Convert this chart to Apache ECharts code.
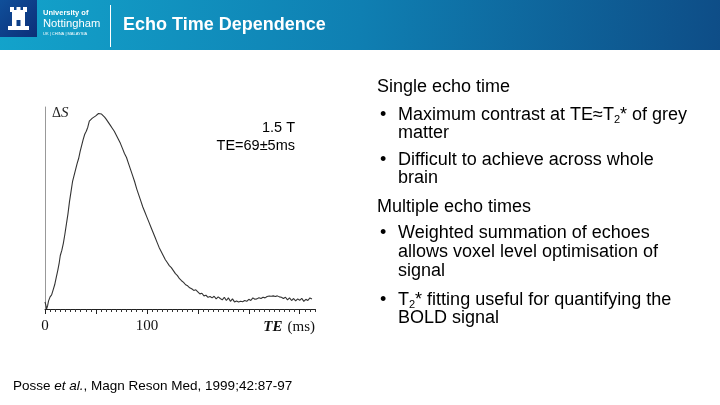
<!DOCTYPE html>
<html><head><meta charset="utf-8">
<script src="https://cdn.jsdelivr.net/npm/echarts@6/dist/echarts.min.js"></script>
<style>html,body{margin:0;padding:0;background:#fff}#c{width:720px;height:405px}</style>
</head><body><div id="c"></div>
<script>
// TE (ms) and signal change ΔS (arbitrary units, 0-100 = axis height)
const teMs = [0,1,1.5,2.5,3.5,5,6.5,8,9.5,11,12.5,14,15,16.5,18,19.5,21,22.5,24,25.5,27,28.5,30,31.5,33,34.5,36,37.5,39,40.5,42,43.5,45,46.5,48,49.5,51,52.5,54,55.5,57,58.5,60,62,64,66,68,70,72,74,76,78,80,82,84,86,88,90,92,94,96,98,100,102,104,106,108,110,112,114,116,118,120,122,124,126,128,130,132,134,136,138,140,142,144,146,148,150,152,154,156,158,160,162,164,166,168,170,172,174,176,178,180,182,184,186,188,190,192,194,196,198,200,202,204,206,208,210,212,214,216,218,220,222,224,226,228,230,232,234,236,238,240,242,244,246,248,250,252,254,256,258,260,262];
const deltaS = [3.5,1.5,0,1.5,4,6,7,9.5,12,15.5,19,23,26.5,29,32.5,37,42,47,53,58,63,66,69,72,74.5,78,81,84,86.5,88,90,93,93.8,94.5,95,95.5,96.2,96.8,96.3,96.5,95.7,95,94,92.5,91,89.5,88,86,84,82,79.5,77,75,72,69,66,63,59.5,56.5,53.5,50.5,48,45.5,43,40.5,38,35.5,33,30.5,28.5,26.5,24.5,23,21.5,20.5,19,17.5,16.5,15,14,13.2,12,11.5,10.5,10,9.2,9.5,8.5,7.5,7.8,6.5,6.8,5.8,6.2,5.5,6.3,5,6,5.2,4.5,5.8,4.2,5.5,3.8,5,3.5,4,3.5,3.8,3.6,4.2,3.8,4.8,4.2,5.5,4.8,5,5.6,5.2,5.8,5.5,6.2,6.4,6.3,6.5,6.2,6.5,6,5.8,5.2,5.8,4.5,5.5,4.2,5.2,4,5,4.3,5.3,3.8,4.8,4.2,5.5,5];
const majorTicks = [0,50,100,150,200,250];
const tickLabels = [0,100];
const xMax = 265;

const chart = echarts.init(document.getElementById('c'), null, {renderer:'canvas'});
const sans = '"Liberation Sans", Arial, sans-serif';
const serif = '"Liberation Serif", "Times New Roman", serif';
const sub = {fontSize: 11, fontFamily: sans, fill:'#000', padding:[10,0,0,0]};
const sup = {fontSize: 18, fontFamily: sans, fill:'#000'};

function txt(x, y, text, opts) {
  return Object.assign({type:'text', x:x, y:y, silent:true,
    style: Object.assign({text:text, fill:'#000', font:'18px ' + sans, verticalAlign:'middle'}, opts||{})});
}

const rightText = [
  txt(377, 87, 'Single echo time'),
  txt(380, 115, '•'), txt(398, 115, '{n|Maximum contrast at TE≈T}{s|2}{n|* of grey}', {rich:{n:sup, s:sub}}),
  txt(398, 133, 'matter'),
  txt(380, 160, '•'), txt(398, 160, 'Difficult to achieve across whole'),
  txt(398, 178, 'brain'),
  txt(377, 207, 'Multiple echo times'),
  txt(380, 233, '•'), txt(398, 233, 'Weighted summation of echoes'),
  txt(398, 252, 'allows voxel level optimisation of'),
  txt(398, 271, 'signal'),
  txt(380, 300, '•'), txt(398, 300, '{n|T}{s|2}{n|* fitting useful for quantifying the}', {rich:{n:sup, s:sub}}),
  txt(398, 318, 'BOLD signal')
];

chart.setOption({
  animation:false,
  grid:{left:45, right:405, top:107, bottom:96, containLabel:false},
  xAxis:[{
    type:'value', min:0, max:xMax, interval:5,
    axisLine:{show:true, lineStyle:{color:'#222', width:1}},
    axisTick:{show:true, length:3, lineStyle:{color:'#333', width:1}},
    axisLabel:{show:false}, splitLine:{show:false}
  },{
    type:'value', min:0, max:xMax, interval:50, position:'bottom',
    axisLine:{show:false},
    axisTick:{show:true, length:5, customValues:majorTicks, lineStyle:{color:'#222', width:1}},
    axisLabel:{show:true, customValues:tickLabels, margin:10, fontFamily:serif, fontSize:15, color:'#111'},
    splitLine:{show:false}
  }],
  yAxis:{type:'value', min:0, max:100, axisLine:{show:true, lineStyle:{color:'#999', width:1}},
    axisTick:{show:false}, axisLabel:{show:false}, splitLine:{show:false}},
  series:[{type:'line', xAxisIndex:0, data:teMs.map((t,i)=>[t, deltaS[i]]), symbol:'none',
    lineStyle:{color:'#333', width:1.1}}],
  graphic:[
    {type:'rect', shape:{x:0,y:0,width:720,height:50}, silent:true,
     style:{fill:new echarts.graphic.LinearGradient(0,0,1,1,[{offset:0,color:'#13a3cb'},{offset:0.5,color:'#0f7fb2'},{offset:1,color:'#0e4d87'}])}},
    {type:'rect', shape:{x:0,y:0,width:37,height:37}, silent:true,
     style:{fill:new echarts.graphic.LinearGradient(0,0,1,1,[{offset:0,color:'#0f4f9a'},{offset:1,color:'#0c2f78'}])}},
    // castle icon
    {type:'rect', shape:{x:12,y:10,width:13,height:18}, silent:true, style:{fill:'#fff'}},
    {type:'rect', shape:{x:10,y:7,width:4,height:5}, silent:true, style:{fill:'#fff'}},
    {type:'rect', shape:{x:16.5,y:7,width:4,height:5}, silent:true, style:{fill:'#fff'}},
    {type:'rect', shape:{x:23,y:7,width:4,height:5}, silent:true, style:{fill:'#fff'}},
    {type:'rect', shape:{x:8,y:26,width:21,height:4}, silent:true, style:{fill:'#fff'}},
    {type:'rect', shape:{x:16.5,y:20,width:4,height:6}, silent:true, style:{fill:'#0d3f88'}},
    txt(43, 13, 'University of', {font:'bold 7.5px ' + sans, fill:'#fff'}),
    txt(43, 24, 'Nottingham', {font:'11.2px ' + sans, fill:'#fff'}),
    txt(43, 34, 'UK | CHINA | MALAYSIA', {font:'4px ' + sans, fill:'#fff'}),
    {type:'rect', shape:{x:110,y:5,width:1,height:42}, silent:true, style:{fill:'#fff'}},
    txt(123, 25, 'Echo Time Dependence', {font:'bold 18px ' + sans, fill:'#fff'}),
    // chart annotations
    txt(52, 113, '{d|Δ}{s|S}', {rich:{d:{fontFamily:serif, fontSize:14, fill:'#222'}, s:{fontFamily:serif, fontStyle:'italic', fontSize:15, fill:'#222'}}}),
    txt(295, 128, '1.5 T', {font:'14.5px ' + sans, align:'right'}),
    txt(295, 146, 'TE=69±5ms', {font:'14.5px ' + sans, align:'right'}),
    txt(315, 327, '{b|TE} {n|(ms)}', {align:'right', rich:{b:{fontFamily:serif, fontStyle:'italic', fontWeight:'bold', fontSize:15, fill:'#111'}, n:{fontFamily:serif, fontSize:15, fill:'#111'}}}),
    ...rightText,
    txt(13, 386, '{n|Posse }{i|et al.}{n|, Magn Reson Med, 1999;42:87-97}', {rich:{n:{fontFamily:sans, fontSize:13.5, fill:'#000'}, i:{fontFamily:sans, fontStyle:'italic', fontSize:13.5, fill:'#000'}}})
  ]
});
</script></body></html>
